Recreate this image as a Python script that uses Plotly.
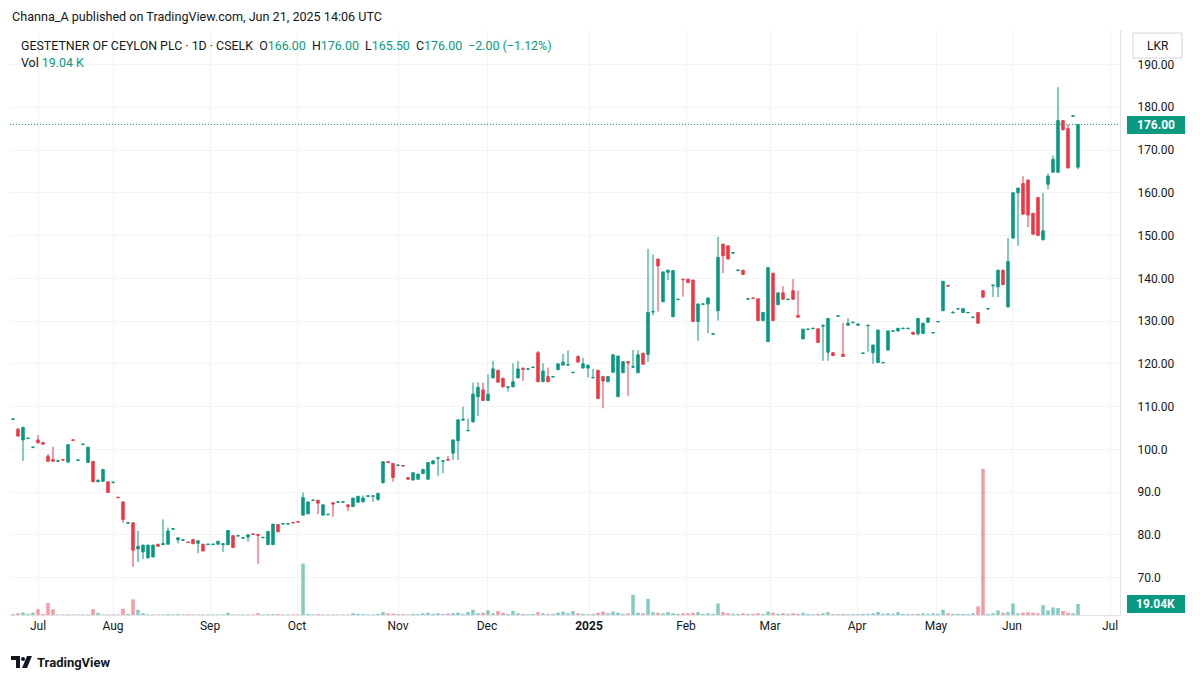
import plotly.graph_objects as go

# ---------------- data ----------------
opens = [
    107.0, 104.7, 102.2, 102.5, 100.4, 102.2, 101.6, 98.4, 97.6, 97.2,
    97.6, 97.0, 102.2, 97.4, 101.1, 96.9, 97.2, 92.4, 92.5, 92.4,
    92.2, 88.8, 87.7, 82.7, 82.8, 76.7, 76.0, 74.6, 74.8, 77.8,
    77.7, 77.8, 81.3, 78.8, 78.7, 78.3, 78.9, 78.0, 77.8, 77.7,
    77.7, 77.8, 77.7, 77.7, 79.8, 79.7, 79.2, 79.5, 80.2, 80.1,
    79.3, 77.7, 77.7, 82.4, 82.5, 82.5, 82.9, 83.1, 84.6, 84.9,
    88.0, 88.1, 84.6, 84.7, 87.5, 87.6, 87.6, 87.0, 86.6, 87.6,
    87.7, 89.0, 89.0, 88.3, 92.2, 97.1, 96.7, 96.2, 96.2, 93.4,
    92.8, 93.0, 94.3, 93.0, 96.6, 97.9, 97.2, 97.6, 99.1, 102.0,
    106.8, 104.3, 106.4, 112.3, 113.9, 111.4, 116.7, 118.5, 116.6, 114.5,
    114.6, 116.7, 119.0, 118.7, 119.1, 122.6, 115.8, 117.0, 116.9, 118.6,
    119.7, 119.7, 117.9, 121.7, 119.0, 119.0, 116.7, 118.5, 117.0, 115.8,
    118.0, 112.3, 117.9, 120.5, 119.2, 117.9, 122.5, 122.2, 132.1, 144.5,
    134.5, 141.4, 131.0, 135.0, 139.8, 139.8, 139.6, 129.9, 133.9, 134.0,
    126.9, 132.4, 148.0, 147.6, 145.9, 141.8, 141.9, 135.1, 135.4, 135.2,
    130.1, 125.2, 141.2, 133.8, 136.6, 135.0, 137.1, 131.3, 125.8, 128.0,
    128.2, 128.2, 128.8, 122.7, 122.6, 131.1, 122.2, 129.0, 129.6, 129.0,
    122.4, 128.9, 122.6, 120.3, 120.2, 123.2, 127.6, 127.7, 128.2, 128.2,
    127.4, 127.0, 127.1, 129.7, 127.2, 129.8, 132.4, 138.3, 131.9, 132.8,
    132.0, 131.9, 130.8, 132.0, 137.1, 132.8, 138.3, 138.0, 141.9, 133.3,
    149.4, 160.0, 162.2, 163.0, 155.2, 158.9, 149.0, 162.0, 164.8, 164.8,
    176.9, 175.0, 177.9, 166.0,
]
highs = [
    107.2, 105.0, 105.3, 102.7, 100.6, 103.3, 101.6, 98.9, 100.6, 97.4,
    97.6, 101.1, 102.3, 97.6, 101.3, 100.5, 97.2, 92.8, 95.3, 92.4,
    92.4, 88.8, 87.7, 82.9, 82.8, 80.9, 77.6, 77.6, 77.6, 77.8,
    83.6, 81.7, 81.5, 79.3, 79.0, 78.3, 78.9, 78.6, 77.8, 77.8,
    77.8, 78.5, 77.9, 81.0, 79.8, 79.8, 79.3, 80.0, 80.2, 80.1,
    79.4, 80.8, 82.5, 82.4, 82.6, 82.7, 82.9, 83.1, 89.9, 87.7,
    88.2, 88.1, 87.0, 84.9, 87.5, 87.8, 87.8, 87.0, 88.6, 89.0,
    89.2, 89.2, 89.1, 89.7, 97.1, 97.1, 96.7, 96.4, 96.2, 93.4,
    94.5, 94.2, 95.3, 96.9, 97.3, 98.1, 97.4, 98.4, 102.2, 106.9,
    110.0, 107.2, 115.6, 115.7, 115.6, 117.5, 120.7, 118.5, 116.6, 114.7,
    120.1, 120.7, 119.0, 118.9, 119.3, 123.0, 120.1, 119.1, 117.1, 120.0,
    122.3, 123.1, 118.1, 122.0, 121.4, 119.9, 118.8, 118.5, 117.0, 117.0,
    122.1, 121.8, 120.5, 120.5, 123.2, 123.2, 122.5, 146.9, 145.6, 144.5,
    141.5, 141.9, 141.8, 135.2, 139.8, 139.8, 139.6, 134.0, 134.1, 135.4,
    127.1, 149.7, 148.0, 147.6, 146.1, 142.0, 141.9, 135.3, 135.4, 135.2,
    132.0, 142.5, 141.2, 136.6, 138.2, 135.2, 139.8, 137.1, 128.1, 128.2,
    128.4, 128.2, 129.0, 130.6, 122.6, 131.3, 129.6, 130.6, 129.8, 129.3,
    122.6, 129.1, 124.4, 127.9, 120.4, 127.7, 127.8, 128.3, 128.4, 128.4,
    127.4, 130.6, 129.5, 130.7, 127.4, 130.0, 139.3, 138.5, 132.4, 133.0,
    132.9, 132.1, 131.0, 132.0, 137.1, 133.0, 138.5, 141.9, 141.9, 149.4,
    160.0, 161.1, 163.9, 163.0, 155.2, 158.9, 160.0, 164.5, 168.7, 184.7,
    176.9, 176.0, 178.0, 176.0,
]
lows = [
    106.9, 103.0, 97.3, 102.5, 100.4, 101.5, 101.2, 97.2, 97.2, 97.2,
    97.4, 97.0, 102.0, 97.4, 101.1, 96.9, 92.4, 92.4, 92.5, 89.9,
    92.2, 88.6, 82.8, 82.7, 72.5, 73.6, 74.3, 74.6, 74.8, 77.3,
    77.7, 77.8, 81.3, 78.0, 78.7, 78.1, 77.9, 75.7, 76.2, 77.7,
    77.7, 77.8, 76.0, 77.7, 77.0, 79.7, 79.2, 78.4, 80.0, 73.2,
    79.3, 77.7, 77.7, 80.7, 82.5, 82.5, 82.7, 82.9, 84.6, 84.9,
    88.0, 84.8, 84.6, 84.7, 84.2, 87.6, 87.6, 85.6, 86.6, 87.6,
    87.7, 89.0, 87.7, 87.9, 92.0, 96.8, 92.4, 96.2, 96.0, 93.0,
    92.8, 93.0, 94.3, 93.0, 96.6, 93.8, 94.4, 97.4, 97.5, 97.5,
    106.8, 104.3, 106.4, 107.8, 111.4, 111.4, 116.7, 115.7, 114.6, 113.5,
    114.6, 116.7, 116.0, 118.7, 119.1, 115.8, 115.8, 115.8, 116.9, 118.6,
    119.7, 119.6, 117.9, 120.4, 119.0, 116.8, 116.7, 111.9, 109.6, 115.8,
    118.0, 112.3, 117.9, 112.5, 119.2, 117.9, 119.9, 120.5, 131.3, 132.2,
    134.5, 139.6, 131.0, 135.0, 135.7, 139.0, 129.9, 125.4, 133.9, 127.1,
    126.9, 130.1, 141.2, 144.5, 145.6, 141.8, 140.9, 135.1, 135.2, 130.1,
    130.1, 125.2, 130.1, 133.8, 135.1, 135.0, 135.1, 130.9, 125.8, 128.0,
    128.2, 125.0, 120.7, 120.7, 121.9, 131.1, 121.7, 129.0, 129.6, 129.0,
    122.4, 122.8, 120.0, 120.3, 120.2, 123.2, 127.6, 127.5, 128.2, 128.2,
    126.9, 126.6, 127.1, 129.7, 127.2, 129.8, 132.4, 138.1, 131.9, 132.8,
    132.0, 131.9, 130.8, 129.5, 135.3, 132.8, 135.6, 135.6, 138.5, 133.3,
    149.4, 147.6, 155.0, 152.0, 150.3, 150.0, 149.0, 160.8, 164.8, 164.8,
    174.5, 165.8, 177.9, 165.5,
]
closes = [
    107.1, 103.1, 105.1, 102.6, 100.5, 101.5, 101.2, 97.2, 97.2, 97.3,
    97.5, 101.1, 102.1, 97.5, 101.2, 100.5, 92.4, 92.8, 95.3, 89.9,
    92.3, 88.7, 83.6, 82.8, 76.4, 77.3, 77.6, 77.6, 77.6, 77.3,
    77.9, 80.9, 81.4, 79.3, 78.8, 78.2, 77.9, 78.6, 76.2, 77.8,
    77.8, 78.5, 77.9, 81.0, 77.0, 79.8, 79.3, 80.0, 80.1, 79.9,
    79.4, 80.8, 82.5, 80.7, 82.6, 82.6, 82.8, 83.0, 88.7, 87.7,
    88.1, 87.4, 87.0, 84.8, 87.2, 87.7, 87.7, 86.6, 88.6, 89.0,
    88.6, 89.1, 89.1, 89.7, 97.1, 96.9, 93.4, 96.3, 96.1, 93.0,
    94.5, 94.2, 95.3, 96.9, 97.3, 98.0, 97.3, 97.5, 102.2, 106.9,
    107.0, 104.4, 112.9, 114.5, 111.4, 112.9, 118.8, 115.7, 114.6, 114.6,
    115.8, 118.8, 118.7, 118.8, 119.2, 115.8, 118.3, 115.8, 117.0, 120.0,
    120.4, 119.8, 118.0, 120.4, 120.0, 119.6, 116.8, 111.9, 116.0, 117.0,
    122.1, 121.8, 120.5, 120.2, 119.3, 122.1, 119.9, 132.0, 132.2, 142.9,
    141.5, 141.9, 141.8, 135.1, 139.7, 139.0, 129.9, 134.0, 134.0, 135.4,
    127.0, 144.9, 145.3, 144.5, 146.0, 141.9, 140.9, 135.2, 135.3, 130.1,
    132.0, 142.5, 130.1, 136.6, 135.1, 135.1, 135.1, 130.9, 128.1, 128.1,
    128.3, 125.0, 129.0, 130.6, 121.9, 131.2, 121.7, 129.5, 129.7, 129.3,
    122.5, 129.0, 124.4, 127.9, 120.3, 127.7, 127.7, 128.3, 128.3, 128.3,
    126.9, 130.6, 129.5, 130.7, 127.3, 129.9, 139.3, 138.2, 132.0, 132.9,
    132.9, 132.0, 130.9, 129.5, 135.6, 132.9, 138.4, 141.9, 138.5, 143.9,
    160.0, 161.1, 155.0, 154.8, 150.3, 150.0, 151.1, 163.9, 167.8, 176.9,
    174.8, 165.8, 178.0, 176.0,
]
volumes_k = [
    1.5, 3, 4.5, 2, 4, 10, 2, 21, 10, 1,
    1, 1, 1, 1, 1, 1, 10, 4, 1, 1,
    1, 1, 11, 2, 27, 9, 3, 1, 1, 1,
    1, 1.5, 1, 1.5, 1, 1.5, 1, 1, 1, 1,
    1, 1, 1, 4, 1, 1, 1, 1, 1, 3.5,
    1, 1.5, 1.5, 1.5, 1, 1, 1, 1, 89, 2,
    1, 1.5, 1, 1, 1, 1, 1, 1, 3, 2,
    1.5, 1, 1, 2, 5, 3, 2.5, 1.5, 1.5, 1,
    2, 1.5, 3, 4, 2, 3, 2, 2.5, 3, 4,
    2, 5, 9, 3, 4, 8, 3, 7, 4, 2,
    7, 3, 2, 1.5, 2, 5, 3, 2, 2, 4,
    6, 3, 7, 3, 2, 1.5, 2, 4, 6, 3,
    6, 4, 2, 3, 35, 4, 3, 28, 5, 4,
    3, 5, 3, 2, 3, 3, 4, 5, 2, 3,
    2, 20, 5, 3, 2, 2, 3, 2, 2, 3,
    2, 6, 4, 2, 3, 2, 3, 2, 4, 2,
    1.5, 2, 3, 5, 2, 1.5, 2, 1.5, 1.5, 1.5,
    2, 2, 3, 5, 2, 3, 2, 5, 2, 1.5,
    1.5, 2, 3, 2, 3, 2, 9, 3, 2, 2,
    2, 1.5, 3, 15, 253, 2, 3, 8, 4, 5,
    20, 3, 4, 5, 4, 3, 17, 8, 13, 12,
    7, 4, 3, 19.04,
]
month_pos = [5, 20, 39.4, 56.8, 77, 94.8, 115.2, 134.6, 151.4, 168.8, 184.6, 199.8, 219.4]
month_labels = ["Jul", "Aug", "Sep", "Oct", "Nov", "Dec", "<b>2025</b>", "Feb", "Mar",
                "Apr", "May", "Jun", "Jul"]
price_ticks = [70, 80, 90, 100, 110, 120, 130, 140, 150, 160, 170, 180, 190]
price_labels = ["70.0", "80.0", "90.0", "100.0", "110.00", "120.00", "130.00", "140.00",
                "150.00", "160.00", "170.00", "180.00", "190.00"]
last_price = 176.0
last_volume_label = "19.04K"

# ---------------- figure ----------------
W, H = 1200, 681
L, R, T, B = 10, 1120, 30, 615
UP, DN = "#089981", "#F23645"
TXT = "#131722"
FONT = "Roboto"


def px(x):
    return (x - L) / (R - L)


def py(y):
    return (B - y) / (B - T)


idx = list(range(len(opens)))
vol_colors = ["rgba(8,153,129,0.5)" if c >= o else "rgba(242,54,69,0.5)"
              for o, c in zip(opens, closes)]

fig = go.Figure()
fig.add_trace(go.Bar(x=idx, y=[v * 1000 for v in volumes_k], marker_color=vol_colors,
                     marker_line_width=0, width=0.7, yaxis="y2", hoverinfo="skip"))
fig.add_trace(go.Candlestick(
    x=idx, open=opens, high=highs, low=lows, close=closes,
    increasing=dict(line=dict(color=UP, width=1), fillcolor=UP),
    decreasing=dict(line=dict(color=DN, width=1), fillcolor=DN),
    whiskerwidth=0, hoverinfo="skip"))

shapes = [
    dict(type="line", xref="paper", x0=0, x1=1, yref="y", y0=last_price, y1=last_price,
         line=dict(color=UP, width=1, dash="1px,2px")),
    # last price label
    dict(type="rect", xref="paper", yref="paper", x0=px(1127), x1=px(1185),
         y0=py(134), y1=py(116), fillcolor=UP, line=dict(width=0)),
    # volume label
    dict(type="rect", xref="paper", yref="paper", x0=px(1127), x1=px(1185),
         y0=py(613), y1=py(595), fillcolor=UP, line=dict(width=0)),
    # LKR box
    dict(type="rect", xref="paper", yref="paper", x0=px(1133), x1=px(1182),
         y0=py(58), y1=py(33), fillcolor="white", line=dict(color="#d1d4dc", width=1)),
    # TradingView logo
    dict(type="rect", xref="paper", yref="paper", x0=px(11), x1=px(20),
         y0=py(660), y1=py(656), fillcolor=TXT, line=dict(width=0)),
    dict(type="rect", xref="paper", yref="paper", x0=px(16), x1=px(20),
         y0=py(668), y1=py(656), fillcolor=TXT, line=dict(width=0)),
    dict(type="circle", xref="paper", yref="paper", x0=px(21), x1=px(25),
         y0=py(661), y1=py(657), fillcolor=TXT, line=dict(width=0)),
    dict(type="path", xref="paper", yref="paper",
         path=f"M {px(27)} {py(656)} L {px(32)} {py(656)} L {px(27)} {py(668)} L {px(22)} {py(668)} Z",
         fillcolor=TXT, line=dict(width=0)),
]

g = f"<span style='color:{UP}'>"
legend_txt = (f"GESTETNER OF CEYLON PLC · 1D · CSELK  O{g}166.00</span>  H{g}176.00</span>"
              f"  L{g}165.50</span>  C{g}176.00</span>  {g}−2.00 (−1.12%)</span>")

annotations = [
    dict(text="Channa_A published on TradingView.com, Jun 21, 2025 14:06 UTC",
         xref="paper", yref="paper", x=px(10), y=py(16), xanchor="left", yanchor="middle",
         showarrow=False, font=dict(family=FONT, size=12.6, color=TXT)),
    dict(text=legend_txt, xref="paper", yref="paper", x=px(19), y=py(45), xanchor="left",
         yanchor="middle", showarrow=False, font=dict(family=FONT, size=12.4, color=TXT)),
    dict(text=f"Vol {g}19.04 K</span>", xref="paper", yref="paper", x=px(19), y=py(62),
         xanchor="left", yanchor="middle", showarrow=False,
         font=dict(family=FONT, size=12.4, color=TXT)),
    dict(text="LKR", xref="paper", yref="paper", x=px(1157.5), y=py(45.5), xanchor="center",
         yanchor="middle", showarrow=False, font=dict(family=FONT, size=12, color=TXT)),
    dict(text=f"<b>{last_price:.2f}</b>", xref="paper", yref="paper", x=px(1156), y=py(125),
         xanchor="center", yanchor="middle", showarrow=False,
         font=dict(family=FONT, size=12, color="white")),
    dict(text=f"<b>{last_volume_label}</b>", xref="paper", yref="paper", x=px(1156), y=py(604),
         xanchor="center", yanchor="middle", showarrow=False,
         font=dict(family=FONT, size=12, color="white")),
    dict(text="<b>TradingView</b>", xref="paper", yref="paper", x=px(35), y=py(662),
         xanchor="left", yanchor="middle", showarrow=False,
         font=dict(family=FONT, size=13, color=TXT)),
]

fig.update_layout(
    width=W, height=H, margin=dict(l=L, r=W - R, t=T, b=H - B, pad=0),
    paper_bgcolor="white", plot_bgcolor="white", showlegend=False,
    font=dict(family=FONT, size=12, color=TXT),
    xaxis=dict(range=[-0.6, 221.4], tickvals=month_pos, ticktext=month_labels,
               showgrid=True, gridcolor="#f2f3f5", zeroline=False,
               rangeslider=dict(visible=False), ticks="", showline=True,
               linecolor="#e0e3eb", tickfont=dict(family=FONT, size=12, color=TXT)),
    yaxis=dict(side="right", range=[61.24, 198.08], tickvals=price_ticks,
               ticktext=price_labels, showgrid=True, gridcolor="#f2f3f5", zeroline=False,
               ticks="", showline=True, linecolor="#e0e3eb",
               tickfont=dict(family=FONT, size=12, color=TXT), ticklabelstandoff=14),
    yaxis2=dict(overlaying="y", range=[0, 1013000], visible=False),
    shapes=shapes, annotations=annotations,
)

fig.write_html("out.html")
